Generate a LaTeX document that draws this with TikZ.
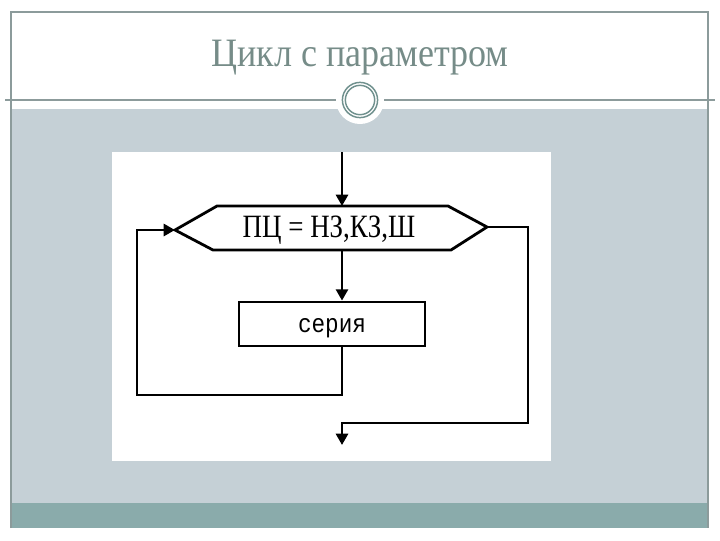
\documentclass[tikz,border=0pt]{standalone}
\usepackage{fontspec}
\setmainfont{Liberation Serif}
\newfontfamily\monof{Liberation Mono}
\usetikzlibrary{arrows.meta}
\definecolor{bandgray}{RGB}{197,208,214}
\definecolor{bandteal}{RGB}{138,171,171}
\definecolor{framegray}{RGB}{140,155,155}
\definecolor{titlecol}{RGB}{118,140,136}
\definecolor{ringcol}{RGB}{112,145,142}
\tikzset{
  flow/.style={line width=2.1pt, black},
  arr/.style={flow, -{Triangle[length=8.5pt,width=9pt]}},
  framel/.style={framegray, line width=0.8pt},
}
\begin{document}
\begin{tikzpicture}[x=0.75pt,y=-0.75pt]
\useasboundingbox (0,0) rectangle (720,540);
\fill[white] (0,0) rectangle (720,540);
% slide bands
\fill[bandgray] (11,109) rectangle (708,503);
\fill[bandteal] (11,503) rectangle (708,528);
\draw[framel] (11,528) -- (11,12) -- (708,12) -- (708,528);
\draw[framel] (5,100) -- (715,100);
\fill[white] (360,100) circle[radius=18pt];
\draw[ringcol, line width=1.1pt] (360,100) circle[radius=13.2pt];
\draw[ringcol, line width=1.1pt] (360,100) circle[radius=11pt];
\node[text=titlecol, font=\fontsize{27}{30}\selectfont] (title) at (360,58) {\scalebox{1}[1.12]{Цикл с параметром}};
% white picture area
\fill[white] (112,152) rectangle (551,461);
% flowchart
\coordinate (top) at (342,152);
\coordinate (hexL) at (175,230);
\coordinate (hexTL) at (217,206);
\coordinate (hexTR) at (448,206);
\coordinate (hexR) at (487,227);
\coordinate (hexBR) at (451,250);
\coordinate (hexBL) at (213,250);
\coordinate (hexT) at (342,206);
\coordinate (hexB) at (342,250);
\draw[flow, line join=miter] (hexL) -- (hexTL) -- (hexTR) -- (hexR) -- (hexBR) -- (hexBL) -- cycle;
\node[font=\fontsize{20}{22}\selectfont, inner sep=0pt] (cond) at (329,230) {\scalebox{1.01}[1.22]{ПЦ = НЗ,КЗ,Ш}};
\node[draw, flow, minimum width=139.5pt, minimum height=33pt, inner sep=0pt] (ser) at (332,324) {};
\node[font=\monof\fontsize{17}{20}\selectfont, inner sep=0pt] (sertext) at (332,328) {\scalebox{1}[1.15]{серия}};
\coordinate (loopBL) at (137,395);
\coordinate (exitR) at (528,423);
\coordinate (out) at (342,445);
\draw[arr] (top) -- (hexT);
\draw[arr] (hexB) -- (hexB |- ser.north);
\draw[arr] (hexB |- ser.south) |- (loopBL) |- (hexL);
\draw[arr] (hexR) -| (exitR) -| (out);
\end{tikzpicture}
\end{document}
